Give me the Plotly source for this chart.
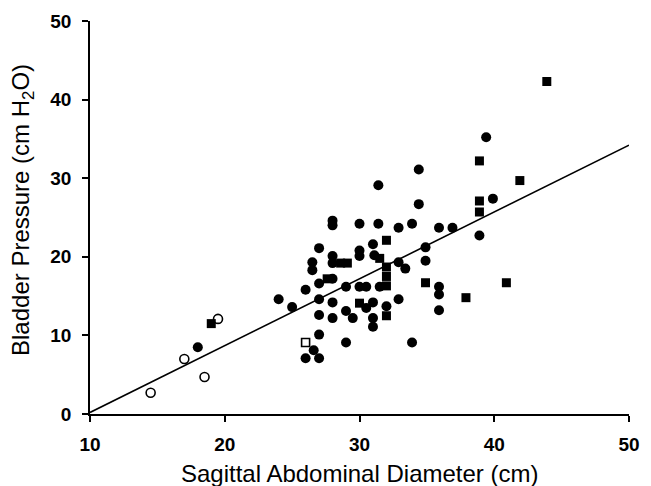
import plotly.graph_objects as go

# Filled circles
circ_x = [18.0, 24.0, 25.0, 26.0, 26.6, 26.0, 27.0, 26.5, 26.5, 27.0, 27.0, 27.0, 27.0, 27.0,
          28.0, 28.0, 28.0, 28.0, 28.0, 28.0, 28.0, 29.0, 29.0, 29.5, 29.0,
          30.0, 30.0, 30.0, 30.0, 30.5, 30.5, 31.0, 31.0, 31.0, 31.0, 31.1, 31.4, 31.4, 31.5,
          32.0, 32.9, 32.9, 33.4, 32.9, 33.9, 33.9, 34.4, 34.4, 34.9, 34.9,
          35.9, 35.9, 35.9, 35.9, 36.9, 38.9, 39.4, 39.9]
circ_y = [8.5, 14.6, 13.6, 15.8, 8.1, 7.1, 7.1, 19.3, 18.3, 21.1, 16.6, 14.6, 12.6, 10.1,
          24.6, 24.0, 20.1, 19.2, 17.2, 14.2, 12.2, 16.2, 13.1, 12.2, 9.1,
          24.2, 20.8, 20.1, 16.2, 16.2, 13.5, 14.2, 12.2, 11.1, 21.6, 20.2, 29.1, 24.2, 16.2,
          13.7, 23.7, 19.3, 18.5, 14.6, 24.2, 9.1, 31.1, 26.7, 21.2, 19.5,
          23.7, 16.2, 15.2, 13.2, 23.7, 22.7, 35.2, 27.4]

# Filled squares
sq_x = [19.0, 27.6, 28.6, 29.1, 30.0, 31.5, 32.0, 32.0, 32.0, 32.0, 32.0,
        34.9, 37.9, 38.9, 38.9, 38.9, 40.9, 41.9, 43.9]
sq_y = [11.5, 17.2, 19.2, 19.2, 14.1, 19.8, 22.1, 18.7, 17.5, 16.3, 12.5,
        16.7, 14.8, 32.2, 27.1, 25.7, 16.7, 29.7, 42.3]

# Open circles
ocirc_x = [14.5, 17.0, 18.5, 19.5]
ocirc_y = [2.7, 7.0, 4.7, 12.1]

# Open square
osq_x = [26.0]
osq_y = [9.1]

# Regression line end points
line_x = [10, 50]
line_y = [0.2, 34.2]

x_ticks = [10, 20, 30, 40, 50]
y_ticks = [0, 10, 20, 30, 40, 50]

x_title = "Sagittal Abdominal Diameter (cm)"
y_title = "Bladder Pressure (cm H<sub>2</sub>O)"

fig = go.Figure()
fig.add_trace(go.Scatter(x=line_x, y=line_y, mode="lines",
                         line=dict(color="black", width=1.6), showlegend=False))
fig.add_trace(go.Scatter(x=circ_x, y=circ_y, mode="markers",
                         marker=dict(symbol="circle", size=10, color="black"), showlegend=False))
fig.add_trace(go.Scatter(x=sq_x, y=sq_y, mode="markers",
                         marker=dict(symbol="square", size=9, color="black"), showlegend=False))
fig.add_trace(go.Scatter(x=ocirc_x, y=ocirc_y, mode="markers",
                         marker=dict(symbol="circle-open", size=9, color="black",
                                     line=dict(width=1.6)), showlegend=False))
fig.add_trace(go.Scatter(x=osq_x, y=osq_y, mode="markers",
                         marker=dict(symbol="square-open", size=8, color="black",
                                     line=dict(width=1.6)), showlegend=False))

tickfont = dict(family="Liberation Sans, Arial, sans-serif", size=19, color="black", weight=700)
titlefont = dict(family="Liberation Sans, Arial, sans-serif", size=24, color="black")

fig.update_layout(
    width=651, height=486, autosize=False,
    margin=dict(l=90, r=11, t=21, b=72),
    plot_bgcolor="white", paper_bgcolor="white",
    xaxis=dict(range=[10, 50], tickvals=x_ticks, ticktext=[str(v) for v in x_ticks],
               showline=True, linecolor="black", linewidth=1.5,
               ticks="outside", ticklen=6, tickwidth=1.5, tickcolor="black",
               showgrid=False, zeroline=False, tickfont=tickfont, ticklabelstandoff=6),
    yaxis=dict(range=[0, 50], tickvals=y_ticks, ticktext=[str(v) for v in y_ticks],
               showline=True, linecolor="black", linewidth=1.5,
               ticks="outside", ticklen=6, tickwidth=1.5, tickcolor="black",
               showgrid=False, zeroline=False, tickfont=tickfont, ticklabelstandoff=7),
    annotations=[
        dict(text=x_title, xref="paper", yref="paper", x=0.5, y=0,
             xanchor="center", yanchor="middle", yshift=-59, showarrow=False, font=titlefont),
        dict(text=y_title, xref="paper", yref="paper", x=0, y=0.5, textangle=-90,
             xanchor="center", yanchor="middle", xshift=-67.5, yshift=7, showarrow=False,
             font=titlefont),
    ],
)

fig.write_html("out.html",
               config={"responsive": False, "displayModeBar": False},
               post_script="document.body.style.margin='0';document.body.style.overflow='hidden';")
